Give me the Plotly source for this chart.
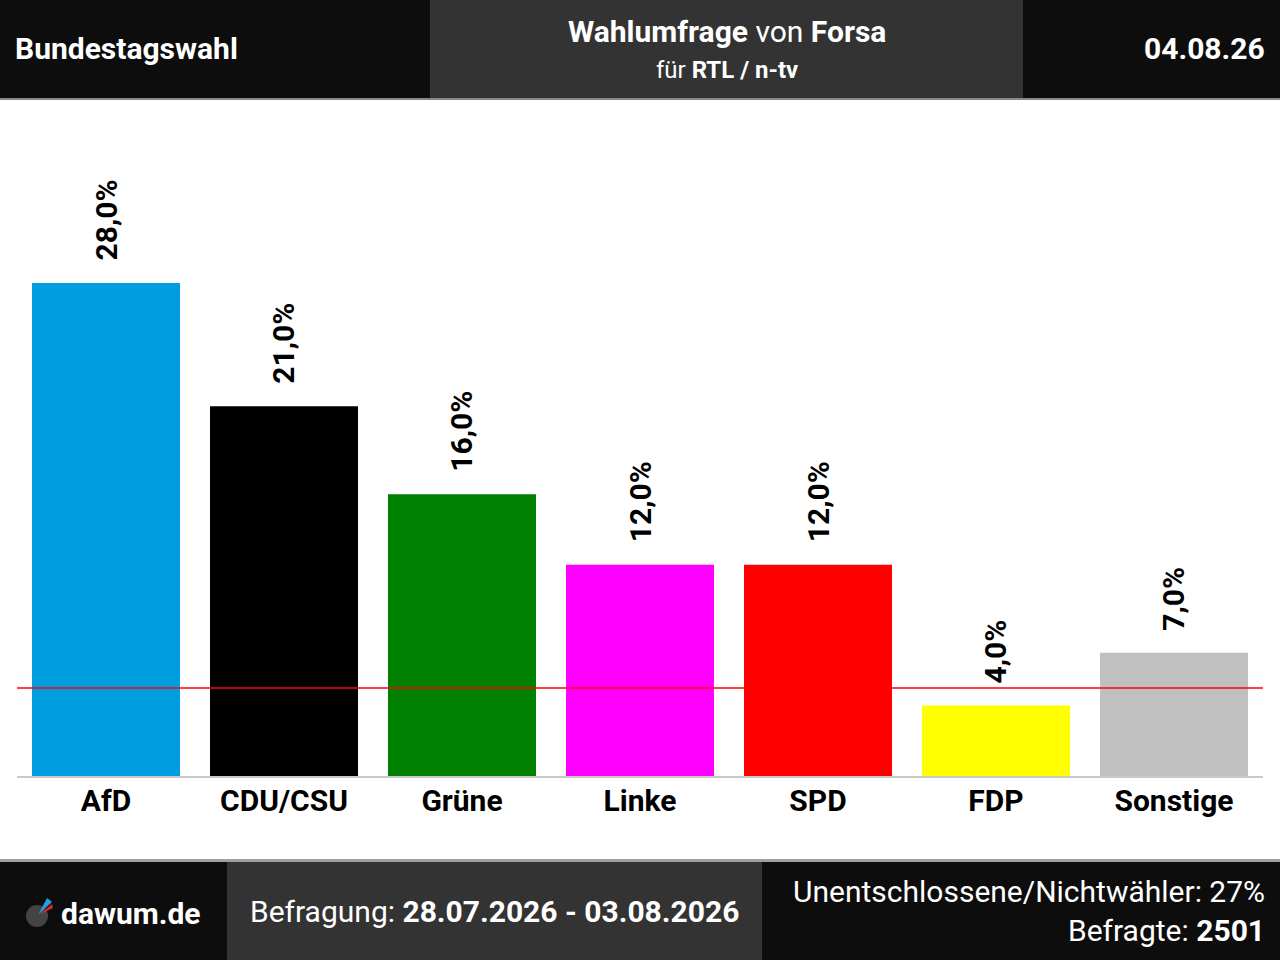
import plotly.graph_objects as go

parties = ["AfD", "CDU/CSU", "Grüne", "Linke", "SPD", "FDP", "Sonstige"]
values = [28.0, 21.0, 16.0, 12.0, 12.0, 4.0, 7.0]
colors = ["#009ee0", "#000000", "#008000", "#ff00ff", "#ff0000", "#ffff00", "#c0c0c0"]
threshold = 5.0

W, H = 1280, 960
ML, MR, MT, MB = 17, 17, 100, 184
PW, PH = W - ML - MR, H - MT - MB


def px(x):
    return (x - ML) / PW


def py(y):
    return (H - MB - y) / PH


FONT = "Roboto"

fig = go.Figure(go.Bar(
    x=parties, y=values, marker=dict(color=colors, line=dict(width=0)),
    hoverinfo="skip",
))

shapes = []


def rect(x0, y0, x1, y1, color):
    shapes.append(dict(type="rect", xref="paper", yref="paper",
                       x0=px(x0), x1=px(x1), y0=py(y0), y1=py(y1),
                       fillcolor=color, line=dict(width=0), layer="above"))


# header
rect(0, 0, 430, 98, "#0d0d0d")
rect(430, 0, 1023, 98, "#333333")
rect(1023, 0, 1280, 98, "#0d0d0d")
rect(0, 98, 1280, 100, "#888888")
# footer
rect(0, 859, 1280, 862, "#a0a0a0")
rect(0, 862, 227, 960, "#0d0d0d")
rect(227, 862, 762, 960, "#333333")
rect(762, 862, 1280, 960, "#0d0d0d")

# threshold line
shapes.append(dict(type="line", xref="paper", yref="y", x0=0, x1=1,
                   y0=threshold, y1=threshold,
                   line=dict(color="#ff0000", width=1.5), layer="above"))

# logo
shapes.append(dict(type="circle", xref="paper", yref="paper",
                   x0=px(26), x1=px(48), y0=py(905), y1=py(927),
                   fillcolor="#444444", line=dict(width=0), layer="above"))


def tri(pts, color):
    path = "M " + " L ".join(f"{px(a)},{py(b)}" for a, b in pts) + " Z"
    shapes.append(dict(type="path", xref="paper", yref="paper", path=path,
                       fillcolor=color, line=dict(width=0), layer="above"))


tri([(37, 916), (46, 903), (48, 905)], "#0d0d0d")
tri([(38, 915), (47, 898), (52, 902)], "#20a0e0")
tri([(39, 915), (52, 904), (53, 908)], "#e02020")

annotations = []
for p, v in zip(parties, values):
    annotations.append(dict(
        x=p, y=v, xref="x", yref="y", text="<b>" + f"{v:.1f}".replace(".", ",") + "%</b>",
        textangle=-90, showarrow=False, yanchor="bottom", yshift=20,
        font=dict(family=FONT, size=30, color="#000000"),
    ))


def label(x, y, text, size, anchor):
    annotations.append(dict(
        x=px(x), y=py(y), xref="paper", yref="paper", text=text, showarrow=False,
        xanchor=anchor, yanchor="middle", borderpad=0,
        font=dict(family=FONT, size=size, color="#ffffff"),
    ))


label(14, 49, "<b>Bundestagswahl</b>", 30, "left")
label(727, 31, "<b>Wahlumfrage</b> von <b>Forsa</b>", 30, "center")
label(727, 70, "für <b>RTL / n-tv</b>", 24, "center")
label(1266, 49, "<b>04.08.26</b>", 30, "right")
label(60, 913, "<b>dawum.de</b>", 30, "left")
label(494, 911, "Befragung: <b>28.07.2026 - 03.08.2026</b>", 30, "center")
label(1266, 891, "Unentschlossene/Nichtwähler: 27%", 30, "right")
label(1266, 930, "Befragte: <b>2501</b>", 30, "right")

fig.update_layout(
    width=W, height=H,
    margin=dict(l=ML, r=MR, t=MT, b=MB, pad=0),
    paper_bgcolor="#ffffff", plot_bgcolor="#ffffff",
    bargap=30 / 178,
    showlegend=False,
    shapes=shapes,
    annotations=annotations,
    font=dict(family=FONT),
    xaxis=dict(
        showgrid=False, zeroline=False, showline=True, linecolor="#c8c8c8", linewidth=2,
        ticks="", fixedrange=True, ticklabelstandoff=-3,
        tickfont=dict(family=FONT, size=30, color="#000000", weight="bold"),
    ),
    yaxis=dict(
        range=[0, PH * 28.0 / 493], visible=False, fixedrange=True,
    ),
)

fig.write_html(
    "out.html",
    config={"displayModeBar": False},
    post_script="document.body.style.margin='0';document.body.style.overflow='hidden';",
)
